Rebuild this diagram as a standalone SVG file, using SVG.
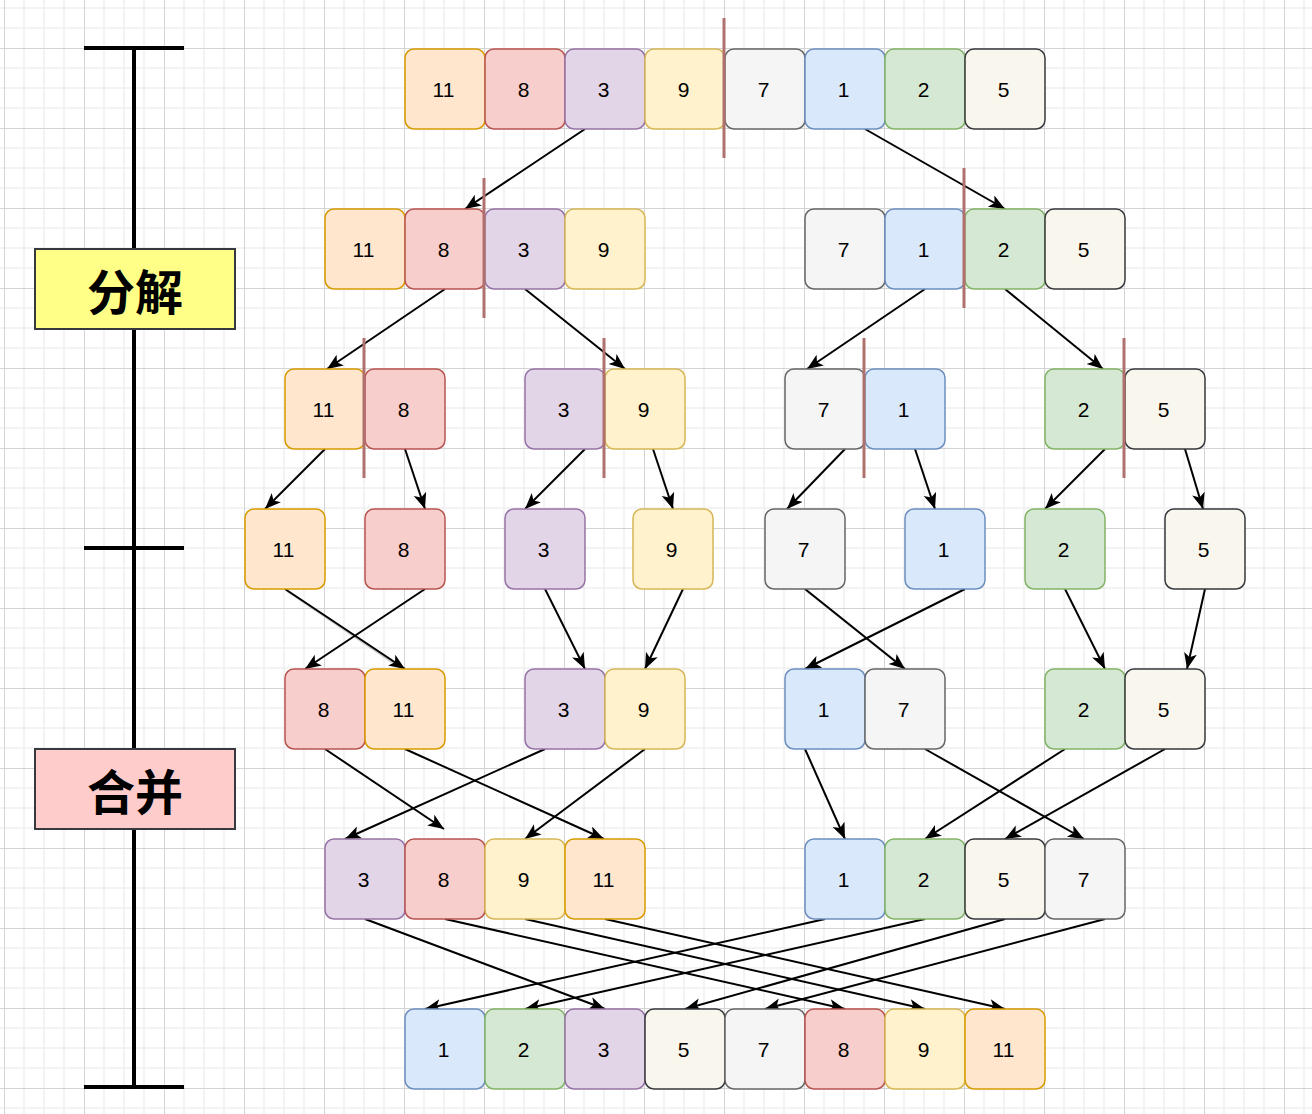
<svg xmlns="http://www.w3.org/2000/svg" width="1312" height="1114" viewBox="0 0 1312 1114">
<style>
.n rect{stroke-width:1.5}
.n text{font-family:"Liberation Sans",Arial,sans-serif;font-size:21px;fill:#000;text-anchor:middle;dominant-baseline:central;transform:translate(-1.5px,0.5px)}
.c1 rect{fill:#ffe6cc;stroke:#d79b00}
.c2 rect{fill:#f8cecc;stroke:#b85450}
.c3 rect{fill:#e1d5e7;stroke:#9673a6}
.c4 rect{fill:#fff2cc;stroke:#d6b656}
.c5 rect{fill:#f5f5f5;stroke:#666666}
.c6 rect{fill:#dae8fc;stroke:#6c8ebf}
.c7 rect{fill:#d5e8d4;stroke:#82b366}
.c8 rect{fill:#f9f7ed;stroke:#36393d}
.div line{stroke:#b0706e;stroke-width:3}
#connectors line{stroke:#000;stroke-width:2;marker-end:url(#arr)}
#connectors line.sh{stroke:#999;stroke-opacity:.5;marker-end:none}
.bar line{stroke:#000;stroke-width:4}
.lab rect{stroke:#36393d;stroke-width:2}
.lab text{font-family:"Noto Sans CJK SC","Liberation Sans",sans-serif;font-size:48px;font-weight:bold;fill:#000;text-anchor:middle;dominant-baseline:central}
</style>
<defs>
<marker id="arr" markerUnits="userSpaceOnUse" markerWidth="18" markerHeight="16" refX="16" refY="6.5" orient="auto" viewBox="0 0 18 16">
<path d="M0,0 L16,6.5 L0,13 L4,6.5 Z" fill="#000"/>
</marker>
<pattern id="grid" patternUnits="userSpaceOnUse" x="4" y="48" width="80" height="80">
<rect width="80" height="80" fill="#fff"/>
<path d="M20,0V80M40,0V80M60,0V80M0,20H80M0,40H80M0,60H80" stroke="#f0f0f0" stroke-width="1.5"/>
<path d="M0.5,0V80M0,0.5H80" stroke="#d4d4d4" stroke-width="1"/>
</pattern>
</defs>
<rect width="1312" height="1114" fill="url(#grid)"/>

<g class="bar" id="timeline">
<line x1="134" y1="48" x2="134" y2="1087"/>
<line x1="84" y1="48" x2="184" y2="48"/>
<line x1="84" y1="548" x2="184" y2="548"/>
<line x1="84" y1="1087" x2="184" y2="1087"/>
</g>
<g class="lab" id="label-split"><rect x="35" y="249" width="200" height="80" fill="#ffff88"/><text x="135" y="289">分解</text></g>
<g class="lab" id="label-merge"><rect x="35" y="749" width="200" height="80" fill="#ffcccc"/><text x="135" y="789">合并</text></g>

<g id="connectors">
<line class="sh" x1="287" y1="591" x2="405" y2="671"/>
<line class="sh" x1="807" y1="591" x2="907" y2="671"/>
<line x1="585" y1="129" x2="465" y2="209"/>
<line x1="865" y1="129" x2="1005" y2="209"/>
<line x1="445" y1="289" x2="327" y2="369"/>
<line x1="525" y1="289" x2="625" y2="369"/>
<line x1="925" y1="289" x2="807" y2="369"/>
<line x1="1005" y1="289" x2="1103" y2="369"/>
<line x1="325" y1="449" x2="265" y2="509"/>
<line x1="405" y1="449" x2="425" y2="509"/>
<line x1="585" y1="449" x2="525" y2="509"/>
<line x1="653" y1="449" x2="673" y2="509"/>
<line x1="845" y1="449" x2="787" y2="509"/>
<line x1="915" y1="449" x2="935" y2="509"/>
<line x1="1105" y1="449" x2="1045" y2="509"/>
<line x1="1185" y1="449" x2="1203" y2="509"/>
<line x1="285" y1="589" x2="405" y2="669"/>
<line x1="425" y1="589" x2="305" y2="669"/>
<line x1="545" y1="589" x2="585" y2="669"/>
<line x1="683" y1="589" x2="645" y2="669"/>
<line x1="805" y1="589" x2="905" y2="669"/>
<line x1="965" y1="589" x2="805" y2="669"/>
<line x1="1065" y1="589" x2="1105" y2="669"/>
<line x1="1205" y1="589" x2="1187" y2="669"/>
<line x1="325" y1="749" x2="444" y2="829"/>
<line x1="405" y1="749" x2="604" y2="839"/>
<line x1="545" y1="749" x2="345" y2="839"/>
<line x1="645" y1="749" x2="525" y2="839"/>
<line x1="805" y1="749" x2="845" y2="839"/>
<line x1="925" y1="749" x2="1084" y2="839"/>
<line x1="1065" y1="749" x2="925" y2="839"/>
<line x1="1165" y1="749" x2="1005" y2="839"/>
<line x1="365" y1="919" x2="605" y2="1009"/>
<line x1="445" y1="919" x2="845" y2="1009"/>
<line x1="525" y1="919" x2="925" y2="1009"/>
<line x1="605" y1="919" x2="1005" y2="1009"/>
<line x1="825" y1="919" x2="425" y2="1009"/>
<line x1="925" y1="919" x2="525" y2="1009"/>
<line x1="1005" y1="919" x2="685" y2="1009"/>
<line x1="1105" y1="919" x2="765" y2="1009"/>
</g>

<!-- row 1 -->
<g id="r1-11" class="n c1"><rect x="405" y="49" width="80" height="80" rx="9"/><text x="445" y="89">11</text></g>
<g id="r1-8" class="n c2"><rect x="485" y="49" width="80" height="80" rx="9"/><text x="525" y="89">8</text></g>
<g id="r1-3" class="n c3"><rect x="565" y="49" width="80" height="80" rx="9"/><text x="605" y="89">3</text></g>
<g id="r1-9" class="n c4"><rect x="645" y="49" width="80" height="80" rx="9"/><text x="685" y="89">9</text></g>
<g id="r1-7" class="n c5"><rect x="725" y="49" width="80" height="80" rx="9"/><text x="765" y="89">7</text></g>
<g id="r1-1" class="n c6"><rect x="805" y="49" width="80" height="80" rx="9"/><text x="845" y="89">1</text></g>
<g id="r1-2" class="n c7"><rect x="885" y="49" width="80" height="80" rx="9"/><text x="925" y="89">2</text></g>
<g id="r1-5" class="n c8"><rect x="965" y="49" width="80" height="80" rx="9"/><text x="1005" y="89">5</text></g>

<!-- row 2 -->
<g id="r2-11" class="n c1"><rect x="325" y="209" width="80" height="80" rx="9"/><text x="365" y="249">11</text></g>
<g id="r2-8" class="n c2"><rect x="405" y="209" width="80" height="80" rx="9"/><text x="445" y="249">8</text></g>
<g id="r2-3" class="n c3"><rect x="485" y="209" width="80" height="80" rx="9"/><text x="525" y="249">3</text></g>
<g id="r2-9" class="n c4"><rect x="565" y="209" width="80" height="80" rx="9"/><text x="605" y="249">9</text></g>
<g id="r2-7" class="n c5"><rect x="805" y="209" width="80" height="80" rx="9"/><text x="845" y="249">7</text></g>
<g id="r2-1" class="n c6"><rect x="885" y="209" width="80" height="80" rx="9"/><text x="925" y="249">1</text></g>
<g id="r2-2" class="n c7"><rect x="965" y="209" width="80" height="80" rx="9"/><text x="1005" y="249">2</text></g>
<g id="r2-5" class="n c8"><rect x="1045" y="209" width="80" height="80" rx="9"/><text x="1085" y="249">5</text></g>

<!-- row 3 -->
<g id="r3-11" class="n c1"><rect x="285" y="369" width="80" height="80" rx="9"/><text x="325" y="409">11</text></g>
<g id="r3-8" class="n c2"><rect x="365" y="369" width="80" height="80" rx="9"/><text x="405" y="409">8</text></g>
<g id="r3-3" class="n c3"><rect x="525" y="369" width="80" height="80" rx="9"/><text x="565" y="409">3</text></g>
<g id="r3-9" class="n c4"><rect x="605" y="369" width="80" height="80" rx="9"/><text x="645" y="409">9</text></g>
<g id="r3-7" class="n c5"><rect x="785" y="369" width="80" height="80" rx="9"/><text x="825" y="409">7</text></g>
<g id="r3-1" class="n c6"><rect x="865" y="369" width="80" height="80" rx="9"/><text x="905" y="409">1</text></g>
<g id="r3-2" class="n c7"><rect x="1045" y="369" width="80" height="80" rx="9"/><text x="1085" y="409">2</text></g>
<g id="r3-5" class="n c8"><rect x="1125" y="369" width="80" height="80" rx="9"/><text x="1165" y="409">5</text></g>

<!-- row 4 -->
<g id="r4-11" class="n c1"><rect x="245" y="509" width="80" height="80" rx="9"/><text x="285" y="549">11</text></g>
<g id="r4-8" class="n c2"><rect x="365" y="509" width="80" height="80" rx="9"/><text x="405" y="549">8</text></g>
<g id="r4-3" class="n c3"><rect x="505" y="509" width="80" height="80" rx="9"/><text x="545" y="549">3</text></g>
<g id="r4-9" class="n c4"><rect x="633" y="509" width="80" height="80" rx="9"/><text x="673" y="549">9</text></g>
<g id="r4-7" class="n c5"><rect x="765" y="509" width="80" height="80" rx="9"/><text x="805" y="549">7</text></g>
<g id="r4-1" class="n c6"><rect x="905" y="509" width="80" height="80" rx="9"/><text x="945" y="549">1</text></g>
<g id="r4-2" class="n c7"><rect x="1025" y="509" width="80" height="80" rx="9"/><text x="1065" y="549">2</text></g>
<g id="r4-5" class="n c8"><rect x="1165" y="509" width="80" height="80" rx="9"/><text x="1205" y="549">5</text></g>

<!-- row 5 -->
<g id="r5-8" class="n c2"><rect x="285" y="669" width="80" height="80" rx="9"/><text x="325" y="709">8</text></g>
<g id="r5-11" class="n c1"><rect x="365" y="669" width="80" height="80" rx="9"/><text x="405" y="709">11</text></g>
<g id="r5-3" class="n c3"><rect x="525" y="669" width="80" height="80" rx="9"/><text x="565" y="709">3</text></g>
<g id="r5-9" class="n c4"><rect x="605" y="669" width="80" height="80" rx="9"/><text x="645" y="709">9</text></g>
<g id="r5-1" class="n c6"><rect x="785" y="669" width="80" height="80" rx="9"/><text x="825" y="709">1</text></g>
<g id="r5-7" class="n c5"><rect x="865" y="669" width="80" height="80" rx="9"/><text x="905" y="709">7</text></g>
<g id="r5-2" class="n c7"><rect x="1045" y="669" width="80" height="80" rx="9"/><text x="1085" y="709">2</text></g>
<g id="r5-5" class="n c8"><rect x="1125" y="669" width="80" height="80" rx="9"/><text x="1165" y="709">5</text></g>

<!-- row 6 -->
<g id="r6-3" class="n c3"><rect x="325" y="839" width="80" height="80" rx="9"/><text x="365" y="879">3</text></g>
<g id="r6-8" class="n c2"><rect x="405" y="839" width="80" height="80" rx="9"/><text x="445" y="879">8</text></g>
<g id="r6-9" class="n c4"><rect x="485" y="839" width="80" height="80" rx="9"/><text x="525" y="879">9</text></g>
<g id="r6-11" class="n c1"><rect x="565" y="839" width="80" height="80" rx="9"/><text x="605" y="879">11</text></g>
<g id="r6-1" class="n c6"><rect x="805" y="839" width="80" height="80" rx="9"/><text x="845" y="879">1</text></g>
<g id="r6-2" class="n c7"><rect x="885" y="839" width="80" height="80" rx="9"/><text x="925" y="879">2</text></g>
<g id="r6-5" class="n c8"><rect x="965" y="839" width="80" height="80" rx="9"/><text x="1005" y="879">5</text></g>
<g id="r6-7" class="n c5"><rect x="1045" y="839" width="80" height="80" rx="9"/><text x="1085" y="879">7</text></g>

<!-- row 7 -->
<g id="r7-1" class="n c6"><rect x="405" y="1009" width="80" height="80" rx="9"/><text x="445" y="1049">1</text></g>
<g id="r7-2" class="n c7"><rect x="485" y="1009" width="80" height="80" rx="9"/><text x="525" y="1049">2</text></g>
<g id="r7-3" class="n c3"><rect x="565" y="1009" width="80" height="80" rx="9"/><text x="605" y="1049">3</text></g>
<g id="r7-5" class="n c8"><rect x="645" y="1009" width="80" height="80" rx="9"/><text x="685" y="1049">5</text></g>
<g id="r7-7" class="n c5"><rect x="725" y="1009" width="80" height="80" rx="9"/><text x="765" y="1049">7</text></g>
<g id="r7-8" class="n c2"><rect x="805" y="1009" width="80" height="80" rx="9"/><text x="845" y="1049">8</text></g>
<g id="r7-9" class="n c4"><rect x="885" y="1009" width="80" height="80" rx="9"/><text x="925" y="1049">9</text></g>
<g id="r7-11" class="n c1"><rect x="965" y="1009" width="80" height="80" rx="9"/><text x="1005" y="1049">11</text></g>

<g class="div" id="dividers">
<line x1="724" y1="18" x2="724" y2="158"/>
<line x1="484" y1="178" x2="484" y2="318"/>
<line x1="964" y1="168" x2="964" y2="308"/>
<line x1="364" y1="338" x2="364" y2="478"/>
<line x1="604" y1="338" x2="604" y2="478"/>
<line x1="864" y1="338" x2="864" y2="478"/>
<line x1="1124" y1="338" x2="1124" y2="478"/>
</g>
</svg>
